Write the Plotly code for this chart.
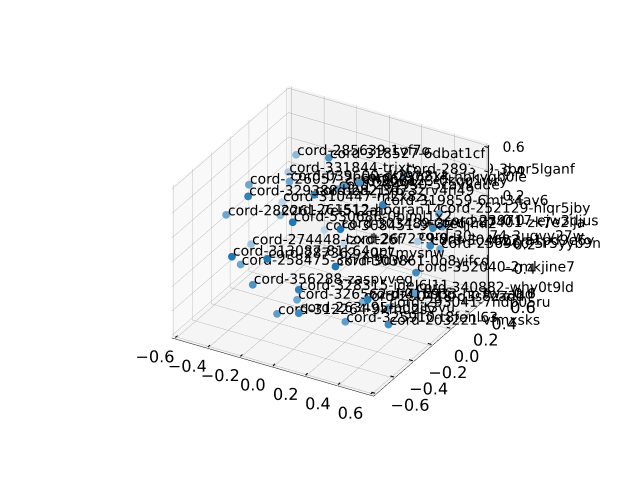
"""3D scatter of labelled documents."""
import numpy as np
import plotly.graph_objects as go

labels = [
    "cord-285639-1vf7ot1r", "cord-318527-6dbat1cf", "cord-331844-trixt9ok", "cord-289399-3bor5lganf",
    "cord-326057-2ubwp6ka", "cord-039600-dt3yq8xk", "cord-329388-den2j3p7", "cord-284930-5cavkdde",
    "cord-282176-3zrv4n49", "cord-297214-hbkvqb0le", "cord-300123-0kqg1wry", "cord-319859-6mt34av6",
    "cord-252129-hlqr5jby", "cord-282261-7ei512ab", "cord-261512-hogran14", "cord-310447-m2x8zq1c",
    "cord-530686-0bjml1x2", "cord-303489-3reqjml2", "cord-308451-9tkl2cde", "cord-287401-zk7e2lja",
    "cord-239717-ejw3djus", "cord-274448-lzxdt26f", "cord-267229-9ddc2kvw", "cord-309274-3ugvy27w",
    "cord-256960-5r5yyb9n", "cord-304622-a1pd9e6y", "cord-313087-81k64qpt", "cord-258475-3k7m9dwx",
    "cord-287362-x0c7mysnw", "cord-303861-0o8yifcd", "cord-352040-2mkjine7", "cord-356288-zaspvveg",
    "cord-328315-ideI6l11", "cord-326562-dr4t1nbg", "cord-340882-why0t9ld", "cord-015933-hp7wzadd",
    "cord-290418-q3s8zadd", "cord-312264-9kfnu2sv", "cord-263495-bdqit3vu", "cord-293041-7ndp05ru",
    "cord-325910-t8fenl63", "cord-203221-vfmxsks",
]
x_values = [
    -0.363, -0.121, -0.419, 0.207, -0.497, -0.314, -0.399, -0.082, -0.096, 0.053, -0.034, 0.233,
    0.417, -0.562, -0.355, -0.430, -0.137, 0.092, -0.197, 0.474, 0.472, -0.473, -0.088, 0.269,
    0.469, 0.485, -0.371, -0.429, -0.205, 0.119, 0.455, -0.303, -0.041, -0.122, 0.434, 0.290,
    0.161, -0.174, -0.031, 0.331, 0.151, 0.397,
]
y_values = [
    0.256, 0.186, 0.270, 0.423, -0.014, 0.101, -0.192, 0.213, -0.012, 0.210, 0.200, 0.147,
    0.425, -0.144, 0.074, 0.223, -0.171, -0.060, 0.271, 0.263, 0.369, -0.032, 0.294, 0.454,
    0.347, 0.215, -0.413, -0.220, -0.324, -0.159, 0.116, -0.309, -0.273, -0.151, 0.142, -0.112,
    0.057, -0.274, -0.290, 0.037, -0.110, -0.077,
]
z_values = [
    0.397, 0.512, 0.224, 0.341, 0.280, 0.300, 0.341, 0.253, 0.351, 0.360, 0.303, 0.289,
    0.101, 0.095, 0.025, 0.005, 0.216, 0.173, -0.164, 0.113, 0.057, -0.185, -0.247, -0.203,
    -0.115, 0.004, 0.005, -0.210, -0.008, -0.056, -0.160, -0.268, -0.232, -0.427, -0.353, -0.293,
    -0.475, -0.480, -0.409, -0.444, -0.529, -0.479,
]
tick_values = [-0.6, -0.4, -0.2, 0.0, 0.2, 0.4, 0.6]
tick_labels = ["−0.6", "−0.4", "−0.2", "0.0", "0.2", "0.4", "0.6"]
axis_limit = 0.62
z_aspect = 0.75

# same viewing angle as the original, elev 30 azim -60
elev, azim = np.radians(30), np.radians(-60)
view = np.array([np.cos(elev) * np.cos(azim), np.cos(elev) * np.sin(azim), np.sin(elev)])
eye_dist = 2.15

xs, ys, zs = np.array(x_values), np.array(y_values), np.array(z_values)

# depth shading: points further from the eye fade towards white
depth = view[0] * xs + view[1] * ys + view[2] * z_aspect * zs
alpha = 0.3 + 0.7 * (depth - depth.min()) / (depth.max() - depth.min())
blue = np.array([31, 119, 180])
colors = [
    "rgb({:.0f},{:.0f},{:.0f})".format(*(blue * a + 255 * (1 - a)))
    for a in alpha
]

# plotly pushes text away from its anchor, so pull the labels back on screen:
# about 12px left and 5px up at roughly 188px per data unit
left = 12 / 188
up = 5 / 188
label_x = np.maximum(xs - 0.866 * left - 0.25 * up, -axis_limit + 0.001)
label_y = ys - 0.5 * left + 0.433 * up
label_z = zs + 0.866 * up / z_aspect

fig = go.Figure()
fig.add_trace(go.Scatter3d(
    x=x_values,
    y=y_values,
    z=z_values,
    mode="markers",
    marker=dict(size=4.5, color=colors, line=dict(width=0)),
))
fig.add_trace(go.Scatter3d(
    x=label_x,
    y=label_y,
    z=label_z,
    mode="text",
    text=labels,
    textposition="middle right",
    textfont=dict(family="DejaVu Sans", size=13.9, color="black"),
))

# plotly keeps z ticks on the left edge, the original has them on the right one.
# pulled slightly off the back pane or the depth test hides it
edge_x = axis_limit - 0.002
edge_y = axis_limit - 0.015
tick_x, tick_y, tick_z = [edge_x, edge_x, None], [edge_y, edge_y, None], [-axis_limit, axis_limit, None]
for value in tick_values:
    tick_x += [edge_x, edge_x - 0.025, None]
    tick_y += [edge_y, edge_y, None]
    tick_z += [value, value, None]
# short inner ticks on x and y, the native ones are only used to push the labels out
floor = -axis_limit + 0.01
for value in tick_values:
    tick_x += [value, value, None, axis_limit - 0.002, axis_limit - 0.025, None]
    tick_y += [-axis_limit + 0.002, -axis_limit + 0.025, None, value, value, None]
    tick_z += [floor, floor, None, floor, floor, None]
fig.add_trace(go.Scatter3d(
    x=tick_x,
    y=tick_y,
    z=tick_z,
    mode="lines",
    line=dict(color="black", width=2),
    connectgaps=False,
))
fig.add_trace(go.Scatter3d(
    x=[edge_x] * len(tick_values),
    y=[axis_limit - 0.002] * len(tick_values),
    z=tick_values,
    mode="text",
    text=["  " + label for label in tick_labels],
    textposition="middle right",
    textfont=dict(family="DejaVu Sans", size=13.9, color="black"),
))


def axis(pane):
    return dict(
        range=[-axis_limit, axis_limit],
        tickvals=tick_values,
        ticktext=tick_labels,
        tickangle=0,
        title=dict(text=""),
        showbackground=True,
        backgroundcolor=pane,
        gridcolor="#b0b0b0",
        gridwidth=1,
        showline=True,
        linecolor="black",
        linewidth=1,
        zeroline=False,
        ticks="outside",
        ticklen=22,
        tickcolor="rgba(0,0,0,0)",
        tickfont=dict(family="DejaVu Sans", size=13.9, color="black"),
        showspikes=False,
    )


z_axis = axis("#f5f5f5")
z_axis.update(showline=False, showticklabels=False, ticks="")

fig.update_layout(
    width=640,
    height=480,
    margin=dict(l=0, r=0, t=0, b=0),
    paper_bgcolor="white",
    showlegend=False,
    scene=dict(
        domain=dict(x=[0.01, 1.0], y=[0.03, 1.0]),
        xaxis=axis("#f9f9f9"),
        yaxis=axis("#f2f2f2"),
        zaxis=z_axis,
        aspectmode="manual",
        aspectratio=dict(x=1, y=1, z=z_aspect),
        camera=dict(
            eye=dict(x=view[0] * eye_dist, y=view[1] * eye_dist, z=view[2] * eye_dist),
            center=dict(x=0, y=0, z=0),
            up=dict(x=0, y=0, z=1),
            projection=dict(type="orthographic"),
        ),
    ),
)

fig.write_html("out.html")
